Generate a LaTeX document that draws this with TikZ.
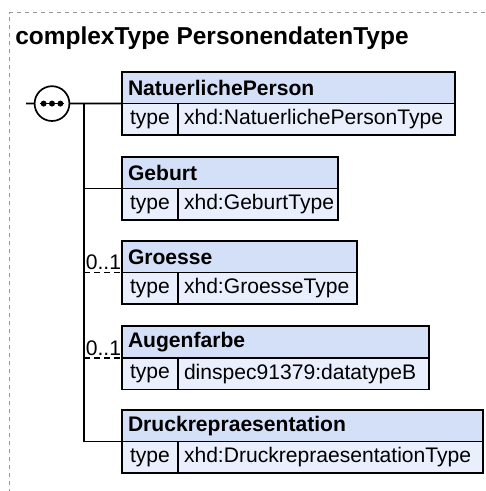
\documentclass[tikz,border=0pt]{standalone}
\usepackage{fontspec}
\setmainfont{Liberation Sans}
\usetikzlibrary{positioning}
\definecolor{elemhead}{RGB}{212,224,247}
\definecolor{elemtype}{RGB}{233,239,252}
\definecolor{framegray}{RGB}{150,150,150}
\tikzset{
	elemname/.style={shape=rectangle, draw, line width=1.2pt, outer sep=0pt, fill=elemhead, minimum height=0.79cm, anchor=north west, inner sep=0.15cm, align=left, font=\bfseries\fontsize{15}{18}\selectfont},
	typekey/.style={shape=rectangle, draw, line width=1.2pt, outer sep=0pt, fill=elemtype, minimum height=0.79cm, minimum width=1.4cm, anchor=north west, inner sep=0pt, font=\fontsize{15}{18}\selectfont},
	typeval/.style={shape=rectangle, draw, line width=1.2pt, outer sep=0pt, fill=elemtype, minimum height=0.79cm, anchor=north west, inner sep=0.15cm, align=left, font=\fontsize{15}{18}\selectfont},
	wire/.style={line width=1.2pt},
	optwire/.style={line width=1.2pt, dash pattern=on 0.15cm off 0.1cm},
	occurs/.style={anchor=south east, inner xsep=0.5pt, inner ysep=1.5pt, font=\fontsize{15}{18}\selectfont},
}
\begin{document}
\begin{tikzpicture}
	\useasboundingbox (0,0) rectangle (12.125,12.275);
	% Frame and title:
	\draw[framegray, line width=0.7pt, dash pattern=on 0.1cm off 0.1cm] (12.125,11.95) -- (0.225,11.95) -- (0.225,0);
	\node[anchor=base west, inner sep=0pt, font=\bfseries\fontsize{17.4}{20}\selectfont] (title) at (0.375,11.15){complexType PersonendatenType};
	% Element boxes:
	\node[elemname, text width=8.025cm] (natHead) at (3.05, 10.475){NatuerlichePerson};
	\node[typekey] (natKey) at (natHead.south west){type};
	\node[typeval, text width=6.625cm] (natVal) at (natKey.north east){xhd:NatuerlichePersonType};
	\node[elemname, text width=5.1cm] (gebHead) at (3.05, 8.35){Geburt};
	\node[typekey] (gebKey) at (gebHead.south west){type};
	\node[typeval, text width=3.7cm] (gebVal) at (gebKey.north east){xhd:GeburtType};
	\node[elemname, text width=5.575cm] (groHead) at (3.05, 6.25){Groesse};
	\node[typekey] (groKey) at (groHead.south west){type};
	\node[typeval, text width=4.175cm] (groVal) at (groKey.north east){xhd:GroesseType};
	\node[elemname, text width=7.375cm] (augHead) at (3.05, 4.125){Augenfarbe};
	\node[typekey] (augKey) at (augHead.south west){type};
	\node[typeval, text width=5.975cm] (augVal) at (augKey.north east){dinspec91379:datatypeB};
	\node[elemname, text width=8.725cm] (druHead) at (3.05, 2.025){Druckrepraesentation};
	\node[typekey] (druKey) at (druHead.south west){type};
	\node[typeval, text width=7.325cm] (druVal) at (druKey.north east){xhd:DruckrepraesentationType};
	% Sequence and wires:
	\coordinate (seqIn) at (0.65, 9.685);
	\coordinate (spine) at (2.1, 9.685);
	\draw[wire] (seqIn) -- (natHead.south west);
	\node[shape=circle, draw, fill=white, line width=1.2pt, minimum size=0.87cm, inner sep=0pt] (seq) at (1.3, 9.685){};
	\draw[line width=1pt] ([xshift=-0.3cm]seq.center) -- ([xshift=0.3cm]seq.center);
	\foreach \dx in {-0.21, 0, 0.21}
		\fill ([xshift=\dx cm]seq.center) circle (0.075);
	\draw[wire] (spine) |- (druHead.south west);
	\draw[wire] (spine |- gebHead.south west) -- (gebHead.south west);
	\draw[optwire] (spine |- groHead.south west) -- (groHead.south west);
	\draw[optwire] (spine |- augHead.south west) -- (augHead.south west);
	\node[occurs] (groOcc) at (groHead.south west){0..1};
	\node[occurs] (augOcc) at (augHead.south west){0..1};
\end{tikzpicture}
\end{document}
